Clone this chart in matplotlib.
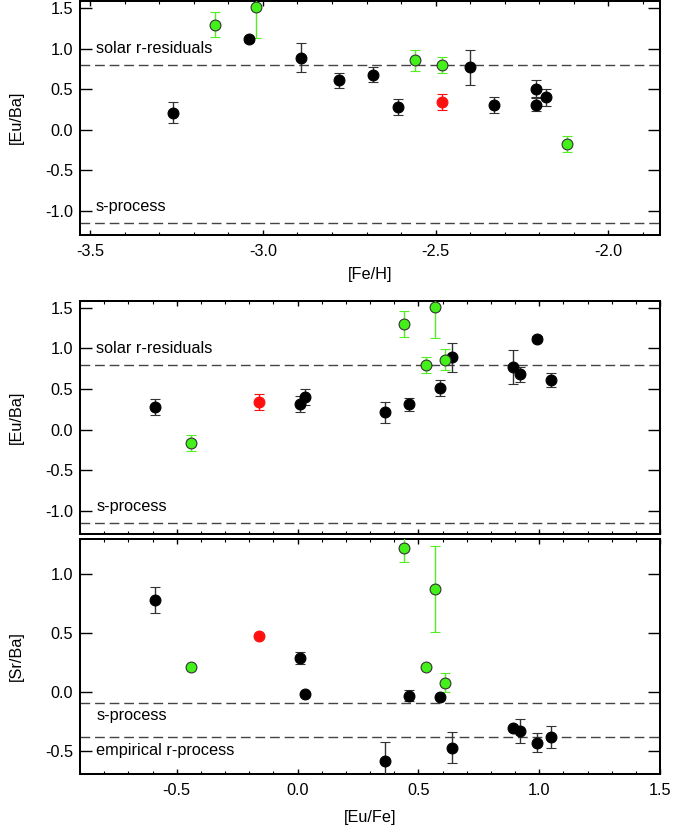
import matplotlib
matplotlib.use("Agg")
import matplotlib.pyplot as plt
from matplotlib.ticker import MultipleLocator
import numpy as np

plt.rcParams['font.family'] = ['Liberation Sans', 'DejaVu Sans']
plt.rcParams['axes.unicode_minus'] = False

# per-star data
fe_h   = [-3.26, -3.14, -3.04, -3.02, -2.89, -2.78, -2.68, -2.61, -2.56, -2.48, -2.48, -2.40, -2.33, -2.21, -2.21, -2.18, -2.12]
eu_fe  = [0.36, 0.44, 0.99, 0.57, 0.64, 1.05, 0.92, -0.59, 0.61, -0.16, 0.53, 0.89, 0.01, 0.59, 0.46, 0.03, -0.44]
eu_ba  = [0.21, 1.30, 1.12, 1.51, 0.89, 0.61, 0.68, 0.28, 0.86, 0.34, 0.80, 0.77, 0.31, 0.51, 0.31, 0.40, -0.17]
e_euba = [0.13, 0.16, 0.03, 0.38, 0.18, 0.09, 0.09, 0.10, 0.13, 0.10, 0.10, 0.21, 0.10, 0.10, 0.08, 0.10, 0.10]
sr_ba  = [-0.58, 1.22, -0.43, 0.87, -0.47, -0.38, -0.33, 0.78, 0.08, 0.47, 0.21, -0.30, 0.29, -0.04, -0.03, -0.02, 0.21]
e_srba = [0.16, 0.12, 0.08, 0.36, 0.13, 0.09, 0.10, 0.11, 0.08, 0.0, 0.0, 0.0, 0.05, 0.0, 0.05, 0.0, 0.0]
group  = ['k', 'g', 'k', 'g', 'k', 'k', 'k', 'k', 'g', 'r', 'g', 'k', 'k', 'k', 'k', 'k', 'g']

solar_r_euba = 0.80
s_proc_euba = -1.15
s_proc_srba = -0.09
emp_r_srba = -0.38

styles = {
    'k': dict(mfc='black', mec='black', ecol='#333333'),
    'g': dict(mfc='#44f01a', mec='#333333', ecol='#55ee22'),
    'r': dict(mfc='#ff1010', mec='#ff1010', ecol='#ff1010'),
}

fig = plt.figure(figsize=(6.74, 8.32), dpi=100)
W, H = 674, 832
def pos(l, t, r, b):
    return [l / W, 1 - b / H, (r - l) / W, (b - t) / H]

ax1 = fig.add_axes(pos(80, 1, 660, 234.5))
ax2 = fig.add_axes(pos(80, 300.7, 660, 534))
ax3 = fig.add_axes(pos(80, 539.3, 660, 773.7))

def plot_points(ax, x, y, ey):
    for xi, yi, ei, g in zip(x, y, ey, group):
        s = styles[g]
        ax.errorbar(xi, yi, yerr=ei, fmt='o', ms=7.8, mfc=s['mfc'], mec=s['mec'],
                    mew=0.8, ecolor=s['ecol'], elinewidth=1.0, capsize=3.8,
                    capthick=1.0, zorder=3)

def style_axes(ax, xmaj, xmin_, ymaj):
    ax.xaxis.set_major_locator(MultipleLocator(xmaj))
    ax.xaxis.set_minor_locator(MultipleLocator(xmin_))
    ax.yaxis.set_major_locator(MultipleLocator(ymaj))
    ax.tick_params(axis='both', which='both', direction='in', top=True, right=True,
                   labelsize=11.7, colors='black')
    ax.tick_params(axis='x', which='major', length=3.6, width=1.0, pad=7)
    ax.tick_params(axis='x', which='minor', length=1.9, width=0.8)
    ax.tick_params(axis='y', which='major', length=8.4, width=1.0, pad=5)
    for sp in ax.spines.values():
        sp.set_linewidth(1.45)

dash = dict(color='#444444', lw=1.0, ls=(0, (7, 3.5)), zorder=1)

# Top panel
plot_points(ax1, fe_h, eu_ba, e_euba)
ax1.axhline(solar_r_euba, **dash)
ax1.axhline(s_proc_euba, **dash)
ax1.set_xlim(-3.53, -1.85)
ax1.set_ylim(-1.29, 1.59)
style_axes(ax1, 0.5, 0.1, 0.5)
ax1.set_xlabel('[Fe/H]', fontsize=11.7)
ax1.set_ylabel('[Eu/Ba]', fontsize=11.7)
ax1.text(-3.485, 0.95, 'solar r-residuals', fontsize=11.7, va='baseline')
ax1.text(-3.485, -1.0, 's-process', fontsize=11.7, va='baseline')

# Middle panel
plot_points(ax2, eu_fe, eu_ba, e_euba)
ax2.axhline(solar_r_euba, **dash)
ax2.axhline(s_proc_euba, **dash)
ax2.set_xlim(-0.9, 1.5)
ax2.set_ylim(-1.29, 1.59)
style_axes(ax2, 0.5, 0.1, 0.5)
ax2.tick_params(axis='x', labelbottom=False)
ax2.set_ylabel('[Eu/Ba]', fontsize=11.7)
ax2.text(-0.833, 0.95, 'solar r-residuals', fontsize=11.7, va='baseline')
ax2.text(-0.833, -1.0, 's-process', fontsize=11.7, va='baseline')

# Bottom panel
plot_points(ax3, eu_fe, sr_ba, e_srba)
ax3.axhline(s_proc_srba, **dash)
ax3.axhline(emp_r_srba, **dash)
ax3.set_xlim(-0.9, 1.5)
ax3.set_ylim(-0.69, 1.29)
style_axes(ax3, 0.5, 0.1, 0.5)
ax3.set_xlabel('[Eu/Fe]', fontsize=11.7)
ax3.set_ylabel('[Sr/Ba]', fontsize=11.7)
ax3.text(-0.833, -0.2, 's-process', fontsize=11.7, va='center')
ax3.text(-0.833, -0.49, 'empirical r-process', fontsize=11.7, va='center')

for ax in (ax1, ax2, ax3):
    ax.yaxis.set_label_coords(-0.096, 0.5)
ax1.xaxis.set_label_coords(0.5, -0.14)
ax3.xaxis.set_label_coords(0.5, -0.155)

fig.savefig('out.png', dpi=100)
